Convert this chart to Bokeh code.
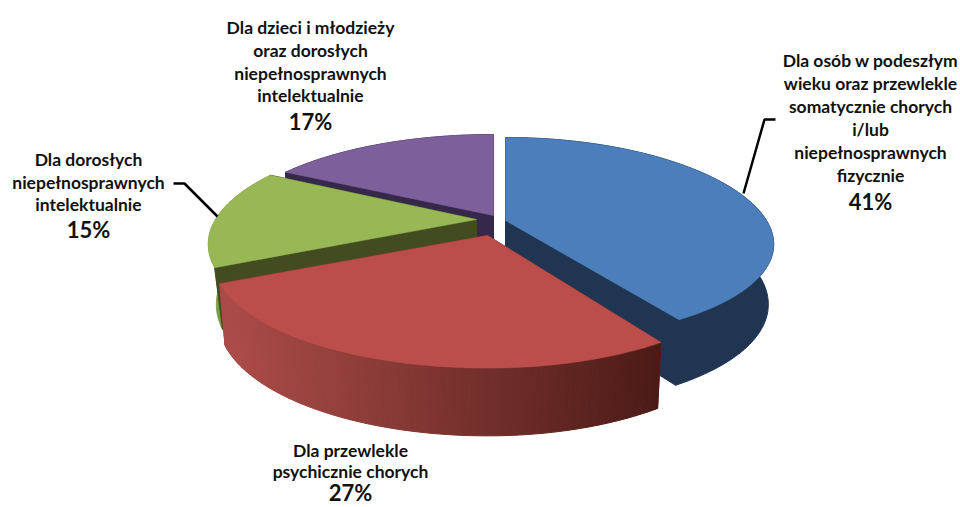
import numpy as np
from bokeh.plotting import figure
from bokeh.models import Range1d
from bokeh.core.properties import value
from bokeh.embed import file_html
from bokeh.resources import INLINE

# ---- data ----
categories = [
    ["Dla osób w podeszłym", "wieku oraz przewlekle", "somatycznie chorych", "i/lub", "niepełnosprawnych", "fizycznie"],
    ["Dla przewlekle", "psychicznie chorych"],
    ["Dla dorosłych", "niepełnosprawnych", "intelektualnie"],
    ["Dla dzieci i młodzieży", "oraz dorosłych", "niepełnosprawnych", "intelektualnie"],
]
shares = [41, 27, 15, 17]

# ---- styles / layout (reference pixels) ----
top_col = ["#4B7EBA", "#BB4E4A", "#98B856", "#7D5F9C"]
wall_col = ["#1F3552", "#7A2F2C", "#434C20", "#35284A"]
rim_col = ["#1F3552", None, "#7F9A47", "#35284A"]
apex = [(505, 220), (487, 235), (476, 219), (493, 215)]
ky = [0.19, 0.23, 0.23, 0.23]
top_r = [83, 83, 83, 81]
left_scale = [1.0, 1.023, 1.0, 1.01]
R, KX = 261.0, 0.23
sx = [0.98, 0.98, 0.97, 0.98]
SY, D = 1.07, 58.5
label_x = [870, 350, 88, 310]
label_y = [[60, 83, 106, 129, 152, 175], [450, 471], [159, 182, 204], [27, 50, 73, 95]]
pct_y = [201, 492, 229, 121]
leaders = [([775, 764, 743], [119, 119, 193]), ([173, 184, 217], [183, 183, 216])]

p = figure(width=960, height=507, output_backend="svg", toolbar_location=None,
           x_range=Range1d(0, 960), y_range=Range1d(507, 0), min_border=0,
           outline_line_color=None, background_fill_color="white")
p.axis.visible = False
p.grid.visible = False

edges = np.cumsum([0] + shares) / sum(shares) * 2 * np.pi


def rim(i, a):
    x, y = np.sin(a), np.cos(a)
    k = ky[i]
    X = R * x / (1 + KX * y)
    X = np.where(X < 0, X * left_scale[i], X)
    Y = top_r[i] * (1 + k) * y / (1 + k * y)
    return X, -Y


def quad(xs, ys, col):
    p.patch(xs, ys, fill_color=col, line_color=col, line_width=1)


def lerp(c0, c1, t):
    rgb = [int(round(a + (b - a) * t)) for a, b in zip(c0, c1)]
    return "#%02x%02x%02x" % tuple(rgb)


for i in [3, 2, 0, 1]:
    ax, ay = apex[i]
    a = np.linspace(edges[i], edges[i + 1], 160)
    X, Y = rim(i, a)
    tx, ty = ax + X, ay + Y
    bx, by = ax + X * sx[i], ay + Y * SY + D

    def cuts():
        for j in (0, -1):
            quad([ax, tx[j], bx[j], ax], [ay, ty[j], by[j], ay + D], wall_col[i])

    if rim_col[i] is None:
        cuts()
        left, right = (172, 76, 72), (76, 27, 23)
        x0, x1 = 225, 657
        for j in range(len(a) - 1):
            t = float(np.clip(((tx[j] + tx[j + 1]) / 2 - x0) / (x1 - x0), 0, 1))
            col = lerp(left, right, t)
            quad([tx[j], tx[j + 1], bx[j + 1], bx[j]], [ty[j], ty[j + 1], by[j + 1], by[j]], col)
    else:
        quad(list(tx) + list(bx[::-1]), list(ty) + list(by[::-1]), rim_col[i])
        cuts()
    p.patch([ax] + list(tx), [ay] + list(ty), fill_color=top_col[i], line_color=top_col[i], line_width=0.5)

for lx, ly in leaders:
    p.line(lx, ly, line_color="black", line_width=2.5)

for i, lines in enumerate(categories):
    p.text([label_x[i]] * len(lines), label_y[i], text=lines, text_font=value("Lato"),
           text_font_style="bold", text_font_size="17.5px", text_align="center",
           text_baseline="middle", text_color="#111111")
    p.text([label_x[i]], [pct_y[i]], text=["%d%%" % shares[i]], text_font=value("Lato"),
           text_font_style="bold", text_font_size="22px", text_align="center",
           text_baseline="middle", text_color="#111111")

open("out.html", "w").write(file_html(p, INLINE))
